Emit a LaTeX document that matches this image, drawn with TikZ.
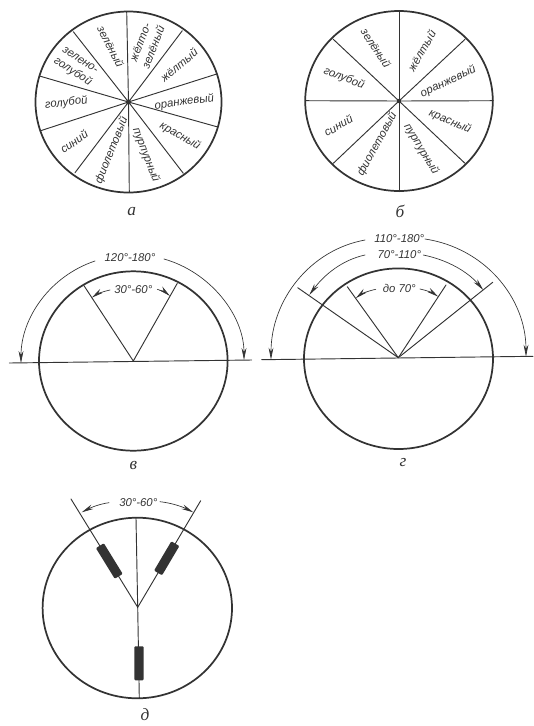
\documentclass[tikz,border=0pt]{standalone}
\usepackage{fontspec}
\setmainfont{Liberation Sans}
\newfontfamily\capfont{Liberation Serif}
\usetikzlibrary{arrows.meta}
\definecolor{ink}{gray}{0.2}
\tikzset{
	rim/.style={draw=ink,line width=1.3pt},
	spoke/.style={draw=ink,line width=.7pt},
	dimline/.style={draw=ink,line width=.5pt,->},
	lab/.style={font=\fontsize{8.5}{10.5}\selectfont\itshape,text=ink,inner sep=0pt,align=center},
	figcap/.style={font=\fontsize{13}{14}\selectfont\capfont\itshape,text=ink,inner sep=0pt},
	coil/.style={draw=none,fill=ink,rounded corners=.8pt,inner sep=0pt,minimum height=7pt}
}
\begin{document}
\begin{tikzpicture}[x=.75pt,y=-.75pt,line join = round, line cap = round, >={Stealth[length=9pt,width=3.6pt]}]
	\useasboundingbox (0,0) rectangle (533,726);
	% a
	\coordinate (A) at (128.5,102);
	\draw[rim] (A) circle[x radius=93,y radius=90.5];
	\foreach \ex/\ey in {126.7/11.7,182.3/30.7,216.7/74,216.7/126.7,183.3/173.3,129.3/192.3,75/172.7,40.7/130.7,39.5/76,73.3/31.7}{
		\coordinate (e) at (\ex,\ey);
		\draw[spoke] (A)--(e);
	}
	\fill[ink] (A) circle (2.6);
	\foreach \nm/\px/\py/\rr/\txt in {
		aa/110.7/46.7/-63/зелёный,
		ab/146.7/44.7/69/жёлто-\\зелёный,
		ac/179/65/40/жёлтый,
		ad/184.3/102.3/8/оранжевый,
		ae/180/136/-30/красный,
		af/146/155/-69/пурпурный,
		ag/111.7/150.7/68/фиолетовый,
		ah/74/141.7/35/синий,
		ai/66.3/103/7/голубой,
		aj/76/66.7/-33/зелено-\\голубой}
		\node[lab,rotate=\rr] (\nm) at (\px,\py) {\txt};
	\node[figcap] (capa) at (131.7,211.7) {а};
	% b
	\coordinate (B) at (399,101);
	\draw[rim] (B) circle[x radius=93.8,y radius=90];
	\foreach \ex/\ey in {399/11.7,465/39.3,493.3/100.7,465/163.3,399/191.7,333.3/163.3,305.7/100.7,333.3/39.3}{
		\coordinate (e) at (\ex,\ey);
		\draw[spoke] (B)--(e);
	}
	\fill[ink] (B) circle (2.2);
	\foreach \nm/\px/\py/\rr/\txt in {
		ba/376/48.3/-57/зелёный,
		bb/421.7/50.7/60/жёлтый,
		bc/448.3/81.7/25/оранжевый,
		bd/450/121.7/-23/красный,
		be/421.3/149.3/-59/пурпурный,
		bf/377.3/144/61/фиолетовый,
		bg/338.3/125.7/29/синий,
		bh/344/78.3/-22/голубой}
		\node[lab,rotate=\rr] (\nm) at (\px,\py) {\txt};
	\node[figcap] (capb) at (400,211.7) {б};
	% v
	\coordinate (C) at (133.3,361);
	\coordinate (CL) at (9.3,363);
	\coordinate (CR) at (251.7,360);
	\coordinate (Ca) at (84,285.7);
	\coordinate (Cb) at (177.3,283.3);
	\draw[rim] (C) circle[x radius=94.3,y radius=89.7];
	\draw[spoke] (CL)--(CR);
	\draw[spoke] (Ca)--(C)--(Cb);
	\node[lab] (lc1) at (130,257.7) {120°-180°};
	\node[lab] (lc2) at (133.3,290) {30°-60°};
	\draw[dimline] (95,261) .. controls (50,276) and (21,318) .. (21,363);
	\draw[dimline] (164,259) .. controls (210,272) and (244,315) .. (244,360);
	\draw[dimline] (110,290) .. controls (103,291.5) and (97,294) .. (91.7,297.7);
	\draw[dimline] (157.3,289.3) .. controls (163,291) and (167,293.5) .. (170,296);
	\node[figcap] (capc) at (133.3,465) {в};
	% g
	\coordinate (D) at (398.3,357.7);
	\coordinate (DL) at (261.7,359.7);
	\coordinate (DR) at (533,356.3);
	\coordinate (Da) at (297.7,287.7);
	\coordinate (Db) at (347.3,286.7);
	\coordinate (Dc) at (446,285);
	\coordinate (Dd) at (492.7,282.3);
	\draw[rim] (398.5,358.7) circle[x radius=94.5,y radius=90.3];
	\draw[spoke] (DL)--(DR);
	\draw[spoke] (Da)--(D)--(Dd);
	\draw[spoke] (Db)--(D)--(Dc);
	\node[lab] (ld1) at (399.3,238.3) {110°-180°};
	\node[lab] (ld2) at (399.3,254.3) {70°-110°};
	\node[lab] (ld3) at (399.3,288.3) {до 70°};
	\draw[dimline] (365,240) .. controls (310,250) and (271,300) .. (271,359.7);
	\draw[dimline] (425,239) .. controls (485,248) and (526,298) .. (526,356.7);
	\draw[dimline] (365,255) .. controls (342,260) and (324,275) .. (309.3,295);
	\draw[dimline] (423.3,255) .. controls (448,260) and (468,272) .. (483.3,290);
	\draw[dimline] (375.7,289.3) .. controls (368,291) and (361,294) .. (355.7,298.3);
	\draw[dimline] (420,289) .. controls (427,290.5) and (433,293) .. (438.3,296.7);
	\node[figcap] (capd) at (403,463) {г};
	% d
	\coordinate (E) at (137.7,607.3);
	\coordinate (Ea) at (71,499);
	\coordinate (Eb) at (200.7,500.7);
	\coordinate (Ec) at (136,518.3);
	\coordinate (Ed) at (139.3,698.3);
	\draw[rim] (137.3,608) circle[x radius=94.7,y radius=90.3];
	\draw[spoke] (Ea)--(E)--(Eb);
	\draw[spoke] (Ec)--(E)--(Ed);
	\node[coil,minimum width=27pt,rotate=-58.4] (ra) at (109.3,561) {};
	\node[coil,minimum width=25.5pt,rotate=59.4] (rb) at (166.7,558.3) {};
	\node[coil,minimum width=25.5pt,rotate=90] (rc) at (139,663.3) {};
	\node[lab] (le) at (138.3,502.3) {30°-60°};
	\draw[dimline] (109,502.7) .. controls (99,504) and (90,508) .. (81.7,512.3);
	\draw[dimline] (160,501.7) .. controls (172,503) and (183,507) .. (193.3,512.3);
	\node[figcap] (cape) at (145,715) {д};
\end{tikzpicture}
\end{document}
